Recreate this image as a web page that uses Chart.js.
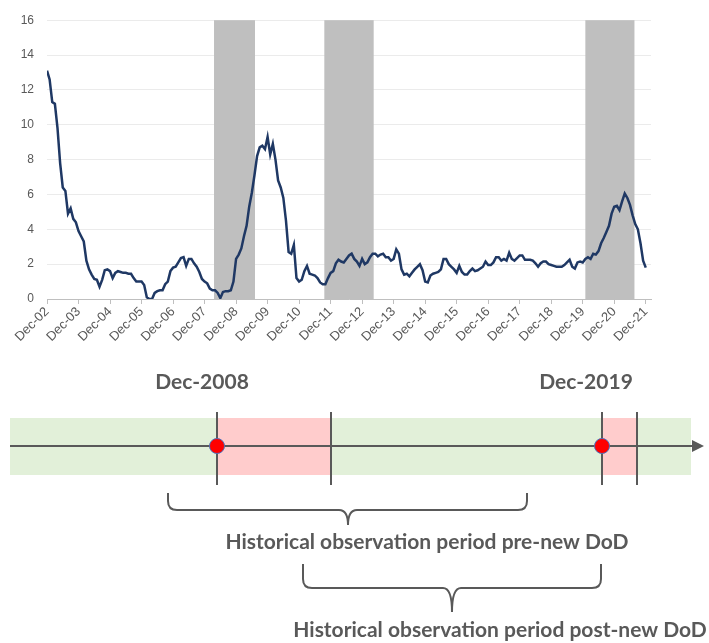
<!DOCTYPE html>
<html>
<head>
<meta charset="utf-8">
<script src="https://cdn.jsdelivr.net/npm/chart.js@4.4.0/dist/chart.umd.min.js"></script>
<style>
	html, body { margin: 0; padding: 0; background: #fff; }
	#wrap { width: 709px; height: 643px; }
</style>
</head>
<body>
<div id="wrap"><canvas id="myChart" width="709" height="643"></canvas></div>
<script>
// monthly values, Dec-02 .. Dec-21 (one row = 12 months)
const rate = [
	13.1, 12.6, 11.3, 11.2, 9.8, 7.8, 6.4, 6.2, 4.9, 5.2, 4.6, 4.4,
	3.9, 3.6, 3.3, 2.2, 1.7, 1.4, 1.15, 1.1, 0.7, 1.1, 1.65, 1.7,
	1.6, 1.2, 1.5, 1.6, 1.55, 1.5, 1.5, 1.45, 1.45, 1.2, 1.0, 1.0,
	1.0, 0.8, 0.1, 0.0, 0.0, 0.35, 0.45, 0.5, 0.5, 0.85, 1.0, 1.6,
	1.8, 1.85, 2.1, 2.35, 2.4, 1.9, 2.3, 2.3, 2.05, 1.85, 1.55, 1.15,
	1.0, 0.9, 0.6, 0.5, 0.5, 0.35, 0.05, 0.4, 0.45, 0.45, 0.5, 1.0,
	2.3, 2.55, 2.9, 3.6, 4.2, 5.3, 6.1, 7.1, 8.2, 8.7, 8.8, 8.6,
	9.3, 8.3, 8.9, 8.0, 6.8, 6.4, 5.8, 4.5, 2.7, 2.6, 3.1, 1.2,
	1.0, 1.1, 1.6, 1.9, 1.45, 1.4, 1.35, 1.2, 0.95, 0.85, 0.85, 1.2,
	1.5, 1.6, 2.05, 2.25, 2.15, 2.1, 2.3, 2.5, 2.6, 2.3, 2.15, 1.9,
	2.3, 2.0, 2.1, 2.4, 2.6, 2.6, 2.45, 2.55, 2.6, 2.4, 2.4, 2.2,
	2.3, 2.85, 2.6, 1.7, 1.4, 1.45, 1.3, 1.5, 1.7, 1.85, 2.0, 1.65,
	1.0, 0.95, 1.35, 1.45, 1.5, 1.55, 1.7, 2.3, 2.3, 2.0, 1.85, 1.7,
	1.5, 1.9, 1.55, 1.4, 1.4, 1.6, 1.75, 1.6, 1.65, 1.75, 1.85, 2.15,
	1.95, 1.95, 2.1, 2.4, 2.4, 2.2, 2.3, 2.2, 2.65, 2.3, 2.2, 2.35,
	2.5, 2.5, 2.25, 2.25, 2.25, 2.2, 2.05, 1.85, 2.05, 2.15, 2.15, 2.0,
	1.95, 1.9, 1.85, 1.85, 1.85, 1.95, 2.1, 2.25, 1.85, 1.75, 2.1, 2.15,
	2.1, 2.3, 2.4, 2.3, 2.6, 2.55, 2.75, 3.2, 3.5, 3.85, 4.2, 4.9,
	5.3, 5.35, 5.1, 5.6, 6.05, 5.8, 5.4, 4.8, 4.3, 4.0, 3.2, 2.2,
	1.8
]
const tickLabels = ['Dec-02', 'Dec-03', 'Dec-04', 'Dec-05', 'Dec-06', 'Dec-07', 'Dec-08',
	'Dec-09', 'Dec-10', 'Dec-11', 'Dec-12', 'Dec-13', 'Dec-14', 'Dec-15', 'Dec-16',
	'Dec-17', 'Dec-18', 'Dec-19', 'Dec-20', 'Dec-21']
// grey periods, in months after Dec-02
const shadeFrom = [63.6, 105.6, 205]
const shadeTo = [79.2, 124.4, 223.7]

const grey = '#595959'

const shading = {
	id: 'shading',
	beforeDatasetsDraw(chart) {
		const { ctx, chartArea, scales } = chart
		ctx.save()
		ctx.fillStyle = '#bfbfbf'
		shadeFrom.forEach((from, i) => {
			const x1 = scales.x.getPixelForValue(from)
			const x2 = scales.x.getPixelForValue(shadeTo[i])
			ctx.fillRect(x1, chartArea.top, x2 - x1, chartArea.bottom - chartArea.top)
		})
		ctx.restore()
	},
}

// the timeline sketch under the chart
const brace = (ctx, x1, x2, cx, top, mid, tip) => {
	const r = 9
	ctx.beginPath()
	ctx.moveTo(x1, top)
	ctx.lineTo(x1, mid - r)
	ctx.quadraticCurveTo(x1, mid, x1 + r, mid)
	ctx.lineTo(cx - r, mid)
	ctx.quadraticCurveTo(cx, mid, cx, tip)
	ctx.moveTo(cx, tip)
	ctx.quadraticCurveTo(cx, mid, cx + r, mid)
	ctx.lineTo(x2 - r, mid)
	ctx.quadraticCurveTo(x2, mid, x2, mid - r)
	ctx.lineTo(x2, top)
	ctx.stroke()
}

const timeline = {
	id: 'timeline',
	afterDraw(chart) {
		const ctx = chart.ctx
		ctx.save()
		ctx.fillStyle = '#e2f0d9'
		ctx.fillRect(10, 418, 681, 57)
		ctx.fillStyle = '#ffcccc'
		ctx.fillRect(217, 418, 114, 57)
		ctx.fillRect(602, 418, 35, 57)

		ctx.strokeStyle = grey
		ctx.lineWidth = 2
		ctx.beginPath()
		ctx.moveTo(10, 446)
		ctx.lineTo(694, 446)
		ctx.stroke()
		ctx.fillStyle = grey
		ctx.beginPath()
		ctx.moveTo(704, 446)
		ctx.lineTo(692, 440)
		ctx.lineTo(692, 452)
		ctx.closePath()
		ctx.fill()

		;[217, 331, 602, 637].forEach((x) => {
			ctx.beginPath()
			ctx.moveTo(x, 412)
			ctx.lineTo(x, 485)
			ctx.stroke()
		})

		;[217, 602].forEach((x) => {
			ctx.beginPath()
			ctx.arc(x, 446, 7.5, 0, Math.PI * 2)
			ctx.fillStyle = '#ff0000'
			ctx.fill()
			ctx.lineWidth = 1
			ctx.strokeStyle = '#4f6fb8'
			ctx.stroke()
		})

		ctx.strokeStyle = grey
		ctx.lineWidth = 2
		brace(ctx, 168, 527, 348, 493, 510, 525)
		brace(ctx, 303, 601, 452, 564, 588, 612)

		ctx.fillStyle = grey
		ctx.textAlign = 'center'
		ctx.textBaseline = 'alphabetic'
		ctx.font = 'bold 21px Lato'
		ctx.fillText('Dec-2008', 202, 389)
		ctx.fillText('Dec-2019', 586, 389)
		ctx.fillText('Historical observation period pre-new DoD', 427, 549)
		ctx.fillText('Historical observation period post-new DoD', 500, 637)
		ctx.restore()
	},
}

const chart = document.getElementById('myChart')
new Chart(chart, {
	type: 'line',
	data: {
		datasets: [
			{
				data: rate.map((v, i) => ({ x: i, y: v })),
				borderColor: '#1f3864',
				borderWidth: 2.5,
				pointRadius: 0,
				tension: 0,
			},
		],
	},
	options: {
		responsive: false,
		animation: false,
		layout: {
			padding: { top: 16, right: 58, bottom: 294, left: 0 },
		},
		scales: {
			x: {
				type: 'linear',
				min: 0,
				max: 230,
				afterBuildTicks: (scale) => {
					scale.ticks = tickLabels.map((_, i) => ({ value: i * 12 }))
				},
				afterFit: (scale) => {
					scale.height = 50
				},
				ticks: {
					autoSkip: false,
					minRotation: 45,
					maxRotation: 45,
					padding: 0,
					color: grey,
					font: { family: 'Liberation Sans', size: 13 },
					callback: (value) => tickLabels[value / 12],
				},
				grid: {
					drawOnChartArea: false,
					tickLength: 5,
					color: '#bfbfbf',
				},
				border: {
					color: '#bfbfbf',
				},
			},
			y: {
				min: 0,
				max: 16,
				afterFit: (scale) => {
					scale.width = 47
				},
				ticks: {
					stepSize: 2,
					padding: 13,
					color: grey,
					font: { family: 'Liberation Sans', size: 12 },
				},
				grid: {
					drawTicks: false,
					color: '#ebebeb',
				},
				border: {
					display: false,
				},
			},
		},
		plugins: {
			legend: {
				display: false,
			},
			tooltip: {
				enabled: false,
			},
		},
	},
	plugins: [shading, timeline],
})
</script>
</body>
</html>
